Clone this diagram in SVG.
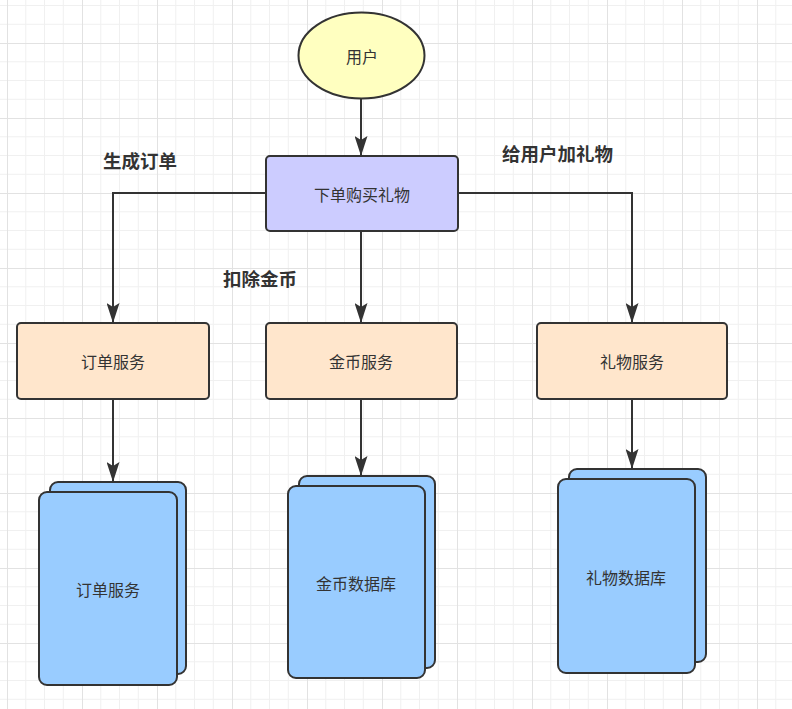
<svg xmlns="http://www.w3.org/2000/svg" width="792" height="709" viewBox="0 0 792 709">
<style>
.node{stroke:#333;stroke-width:2}
.t{font-family:"Noto Sans CJK SC","Noto Sans",sans-serif;font-size:16px;fill:#333;text-anchor:middle;dominant-baseline:central}
.lbl{font-family:"Noto Sans CJK SC","Noto Sans",sans-serif;font-size:18.5px;font-weight:bold;fill:#333;dominant-baseline:central}
.edge{fill:none;stroke:#333;stroke-width:2}
</style>
<defs>
<pattern id="grid" patternUnits="userSpaceOnUse" x="7" y="43" width="75" height="75">
<path d="M18.75,0V75M37.5,0V75M56.25,0V75M0,18.75H75M0,37.5H75M0,56.25H75" stroke="#f0f0f0" stroke-width="1" fill="none"/>
<path d="M0.5,0V75M0,0.5H75" stroke="#e2e2e2" stroke-width="1" fill="none"/>
</pattern>
<marker id="arr" markerUnits="userSpaceOnUse" viewBox="0 0 20 13" refX="20" refY="6.5" markerWidth="20" markerHeight="13" orient="auto">
<path d="M0,0 L20,6.5 L0,13 L4,6.5 Z" fill="#333"/>
</marker>
</defs>
<rect width="792" height="709" fill="#fff"/>
<rect width="792" height="709" fill="url(#grid)"/>
<g id="connectors">
<path class="edge" d="M361,99 L361,156" marker-end="url(#arr)"/>
<path class="edge" d="M266,193 L113,193 L113,323" marker-end="url(#arr)"/>
<path class="edge" d="M361,231 L361,323" marker-end="url(#arr)"/>
<path class="edge" d="M458,193 L632,193 L632,323" marker-end="url(#arr)"/>
<path class="edge" d="M113,399 L113,482" marker-end="url(#arr)"/>
<path class="edge" d="M361,399 L361,476" marker-end="url(#arr)"/>
<path class="edge" d="M632,399 L632,469" marker-end="url(#arr)"/>
</g>
<g id="labels">
<text class="lbl" x="103" y="160">生成订单</text>
<text class="lbl" x="223" y="278">扣除金币</text>
<text class="lbl" x="502" y="153">给用户加礼物</text>
</g>
<g id="user">
<ellipse class="node" cx="361.5" cy="55.5" rx="63" ry="43" fill="#ffffc0"/>
<text class="t" x="362" y="56">用户</text>
</g>
<g id="buy">
<rect class="node" x="266" y="156" width="192" height="75" rx="4" fill="#ccccff"/>
<text class="t" x="362" y="194">下单购买礼物</text>
</g>
<g id="order-service">
<rect class="node" x="17" y="323" width="192" height="76" rx="4" fill="#ffe6cc"/>
<text class="t" x="113" y="361">订单服务</text>
</g>
<g id="coin-service">
<rect class="node" x="266" y="323" width="191" height="76" rx="4" fill="#ffe6cc"/>
<text class="t" x="361" y="361">金币服务</text>
</g>
<g id="gift-service">
<rect class="node" x="537" y="323" width="190" height="76" rx="4" fill="#ffe6cc"/>
<text class="t" x="632" y="361">礼物服务</text>
</g>
<g id="order-db">
<rect class="node" x="50" y="482" width="136" height="192" rx="8" fill="#99ccff"/>
<rect class="node" x="39" y="492" width="138" height="193" rx="8" fill="#99ccff"/>
<text class="t" x="108" y="589">订单服务</text>
</g>
<g id="coin-db">
<rect class="node" x="299" y="476" width="136" height="192" rx="8" fill="#99ccff"/>
<rect class="node" x="288" y="486" width="137" height="192" rx="8" fill="#99ccff"/>
<text class="t" x="356" y="583">金币数据库</text>
</g>
<g id="gift-db">
<rect class="node" x="569" y="469" width="137" height="193" rx="8" fill="#99ccff"/>
<rect class="node" x="558" y="479" width="137" height="194" rx="8" fill="#99ccff"/>
<text class="t" x="626" y="577">礼物数据库</text>
</g>
</svg>
